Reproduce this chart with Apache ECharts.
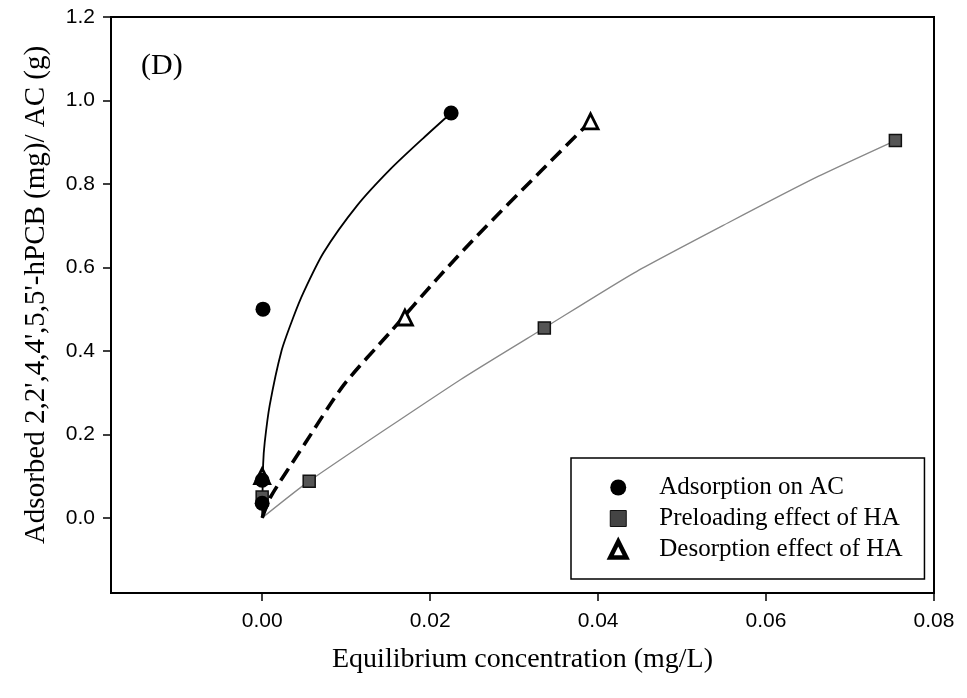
<!DOCTYPE html>
<html>
<head>
<meta charset="utf-8">
<script src="https://cdn.jsdelivr.net/npm/echarts@6/dist/echarts.min.js"></script>
<style>html,body{margin:0;padding:0;background:#fff;}#chart{width:967px;height:698px;}</style>
</head>
<body>
<div id="chart"></div>
<script>
// ---- data ----
const xTicks = [0, 0.02, 0.04, 0.06, 0.08];
const yTicks = [0, 0.2, 0.4, 0.6, 0.8, 1.0, 1.2];

const adsorption = [[0.0, 0.035], [0.0, 0.09], [0.0001, 0.5], [0.0225, 0.97]];
const preloading = [[0.0, 0.05], [0.0056, 0.088], [0.0336, 0.455], [0.0754, 0.904]];
const desorption = [[0.0, 0.10], [0.0170, 0.48], [0.0391, 0.95]];

const adsorptionFit = [[0, 0], [0.00012, 0.13], [0.0003, 0.18], [0.0009, 0.27], [0.0023, 0.40], [0.0037, 0.48],
  [0.0049, 0.539], [0.0073, 0.635], [0.0113, 0.748], [0.0153, 0.836], [0.0192, 0.910], [0.0225, 0.97]];
const desorptionFit = [[0, 0], [0.001, 0.05], [0.005, 0.175], [0.0097, 0.318], [0.0153, 0.446],
  [0.0208, 0.572], [0.0256, 0.676], [0.0332, 0.831], [0.0391, 0.95]];
const preloadingFit = [[0, 0], [0.0056, 0.088], [0.0236, 0.331], [0.0336, 0.455], [0.0443, 0.587],
  [0.0555, 0.707], [0.0662, 0.818], [0.0754, 0.904]];

const seriesNames = ['Adsorption on AC', 'Preloading effect of HA', 'Desorption effect of HA'];
const panelLabel = '(D)';
const xTitle = 'Equilibrium concentration (mg/L)';
const yTitle = "Adsorbed 2,2',4,4',5,5'-hPCB (mg)/ AC (g)";

// ---- chart ----
const serif = 'Liberation Serif, Times New Roman, serif';
const sans = 'Liberation Sans, Arial, sans-serif';
const chart = echarts.init(document.getElementById('chart'), null, {renderer: 'canvas'});

chart.setOption({
  animation: false,
  backgroundColor: '#fff',
  grid: {left: 111, top: 17, right: 33, bottom: 105, show: true, borderColor: '#000', borderWidth: 2, backgroundColor: 'transparent'},
  xAxis: {
    type: 'value', min: -0.018, max: 0.08,
    name: xTitle, nameLocation: 'middle', nameGap: 53,
    nameTextStyle: {fontFamily: serif, fontSize: 28, color: '#000'},
    axisLine: {show: true, onZero: false, lineStyle: {color: '#000', width: 2}},
    axisTick: {show: true, inside: false, length: 8, customValues: xTicks, lineStyle: {color: '#000', width: 1.5}},
    axisLabel: {customValues: xTicks, margin: 18, fontFamily: sans, fontSize: 21, color: '#000',
      formatter: v => v.toFixed(2)},
    splitLine: {show: false}
  },
  yAxis: {
    type: 'value', min: -0.18, max: 1.2,
    name: yTitle, nameLocation: 'middle', nameGap: 60, nameRotate: 90,
    nameTextStyle: {fontFamily: serif, fontSize: 29, color: '#000', padding: [0, 0, 0, 20]},
    axisLine: {show: true, onZero: false, lineStyle: {color: '#000', width: 2}},
    axisTick: {show: true, inside: false, length: 8, customValues: yTicks, lineStyle: {color: '#000', width: 1.5}},
    axisLabel: {customValues: yTicks, margin: 16, fontFamily: sans, fontSize: 21, color: '#000',
      formatter: v => v.toFixed(1)},
    splitLine: {show: false}
  },
  legend: {
    orient: 'vertical', left: 571, top: 458,
    padding: [17, 22, 17, 37],
    itemWidth: 16, itemHeight: 16, itemGap: 6,
    borderColor: '#000', borderWidth: 1.5, backgroundColor: '#fff',
    textStyle: {fontFamily: serif, fontSize: 25, lineHeight: 25, color: '#000', padding: [0, 0, 0, 28]},
    data: [
      {name: seriesNames[0], icon: 'circle'},
      {name: seriesNames[1], icon: 'rect', itemStyle: {color: '#444', borderColor: '#111', borderWidth: 1}},
      {name: seriesNames[2], icon: 'triangle', itemStyle: {color: '#fff', borderColor: '#000', borderWidth: 4.5}}
    ]
  },
  graphic: [{
    type: 'text', left: 141, top: 51,
    style: {text: panelLabel, fontFamily: serif, fontSize: 30, fill: '#000'}
  }],
  series: [
    {name: 'fitPre', type: 'line', data: preloadingFit, showSymbol: false, smooth: 0.2,
      lineStyle: {color: '#888', width: 1.3}, z: 2, silent: true},
    {name: 'fitAds', type: 'line', data: adsorptionFit, showSymbol: false, smooth: 0.25,
      lineStyle: {color: '#000', width: 1.8}, z: 2, silent: true},
    {name: 'fitDes', type: 'line', data: desorptionFit, showSymbol: false, smooth: 0.25,
      lineStyle: {color: '#000', width: 3.6, type: [14, 7]}, z: 2, silent: true},
    {name: seriesNames[1], type: 'scatter', data: preloading, symbol: 'rect', symbolSize: 12,
      itemStyle: {color: '#555', borderColor: '#111', borderWidth: 1.5, opacity: 1}, z: 3},
    {name: seriesNames[2], type: 'scatter', data: desorption, symbol: 'triangle', symbolSize: 15,
      itemStyle: {color: '#fff', borderColor: '#000', borderWidth: 2.8, opacity: 1}, z: 4},
    {name: seriesNames[0], type: 'scatter', data: adsorption, symbol: 'circle', symbolSize: 15,
      itemStyle: {color: '#000', opacity: 1}, z: 5}
  ]
});
</script>
</body>
</html>
